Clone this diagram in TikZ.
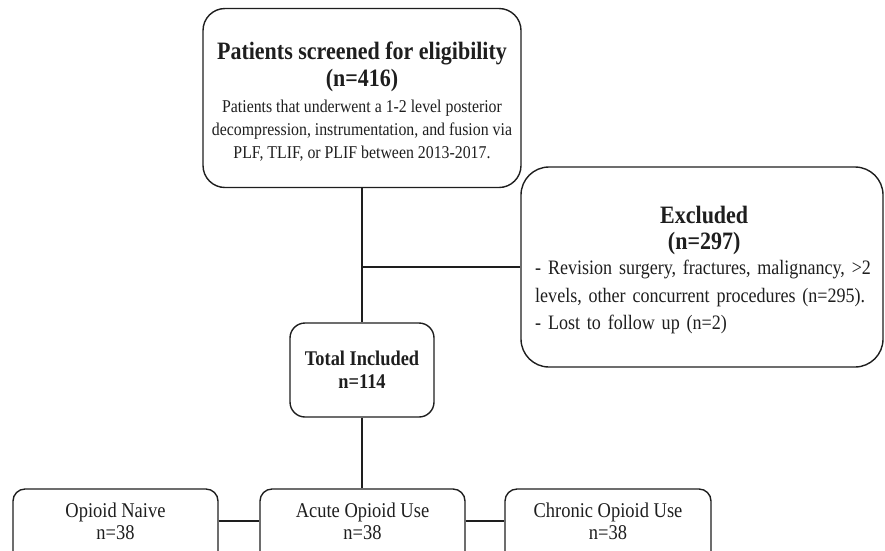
\documentclass[tikz,border=0pt]{standalone}
\usepackage{fontspec}
\setmainfont{Liberation Serif}[FakeStretch=0.88]
\usetikzlibrary{calc}
\definecolor{ink}{HTML}{1E1E1E}
\begin{document}
\begin{tikzpicture}[x=1pt,y=-1pt,
  box/.style={draw=ink, line width=1.4pt, rounded corners=#1, inner sep=0pt},
  txt/.style={inner sep=0pt, text=ink},
  link/.style={draw=ink, line width=1.4pt}]
\useasboundingbox (0,0) rectangle (885,550);
\clip (0,0) rectangle (885,550);

% boxes
\node[box=22pt, minimum width=318pt, minimum height=179pt] (screen) at (362,98) {};
\node[box=28pt, minimum width=362pt, minimum height=200pt] (excl) at (702,267) {};
\node[box=15pt, minimum width=144pt, minimum height=94pt] (total) at (362,370) {};
\node[box=12pt, minimum width=205pt, minimum height=110pt] (naive) at (115.5,544) {};
\node[box=12pt, minimum width=205pt, minimum height=110pt] (acute) at (362.5,544) {};
\node[box=12pt, minimum width=206pt, minimum height=110pt] (chronic) at (608,544) {};

% texts
\node[txt, align=center, font=\fontsize{18}{23}\selectfont] (screentxt) at (362,102)
  {{\fontsize{25}{27}\selectfont\bfseries Patients screened for eligibility}\\[4pt]
   {\fontsize{25}{27}\selectfont\bfseries (n=416)}\\[3pt]
   Patients that underwent a 1-2 level posterior\\
   decompression, instrumentation, and fusion via\\
   PLF, TLIF, or PLIF between 2013-2017.};

\node[txt, anchor=west, text width=370pt, align=left, font=\fontsize{20.5}{27}\selectfont] (excltxt) at (535,270)
  {\makebox[338pt][c]{\fontsize{25}{27}\selectfont\bfseries Excluded}\\[-2pt]
   \makebox[338pt][c]{\fontsize{25}{27}\selectfont\bfseries (n=297)}\\[-1pt]
   - Revision surgery, fractures, malignancy, >2\\
   levels, other concurrent procedures (n=295).\\
   - Lost to follow up (n=2)};

\node[txt, align=center, font=\fontsize{20.9}{23}\selectfont\bfseries] (totaltxt) at (362,370)
  {Total Included\\ n=114};

\node[txt, align=center, font=\fontsize{21}{22}\selectfont] (naivetxt) at (115.5,521)
  {Opioid Naive\\ n=38};
\node[txt, align=center, font=\fontsize{21}{22}\selectfont] (acutetxt) at (362.5,521)
  {Acute Opioid Use\\ n=38};
\node[txt, align=center, font=\fontsize{21}{22}\selectfont] (chronictxt) at (608,521)
  {Chronic Opioid Use\\ n=38};

% connectors
\draw[link] (screen.south) -- (total.north);
\draw[link] (excl.west) -- (excl.west -| screen.south);
\draw[link] (total.south) -- (total.south |- acute.north);
\draw[link] (naive.east |- naivetxt) -- (acute.west |- naivetxt);
\draw[link] (acute.east |- acutetxt) -- (chronic.west |- acutetxt);
\end{tikzpicture}
\end{document}
